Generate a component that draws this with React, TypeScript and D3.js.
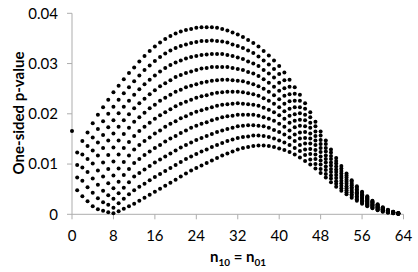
import React from "react";
import * as d3 from "d3";

// x positions (n10 = n01) where each series starts; values follow at consecutive integers
const seriesStart = [0, 1, 1, 1, 2, 3, 4, 5, 6, 7, 8];

const p0 = [0.0166, 0.0123, 0.0146, 0.0163, 0.0181, 0.0198, 0.0213, 0.0228, 0.0243, 0.0256, 0.0269, 0.0281, 0.0292, 0.0304, 0.0315, 0.0325, 0.0334, 0.0342, 0.0349, 0.0355, 0.0360, 0.0364, 0.0367, 0.0369, 0.0371, 0.0372, 0.0372, 0.0372, 0.0371, 0.0369, 0.0366, 0.0362, 0.0358, 0.0353, 0.0347, 0.0341, 0.0334, 0.0325, 0.0316, 0.0306, 0.0295, 0.0282, 0.0268, 0.0253, 0.0238, 0.0221, 0.0203, 0.0184, 0.0165, 0.0147, 0.0129, 0.0112, 0.0096, 0.0081, 0.0068, 0.0056, 0.0045, 0.0036, 0.0027, 0.0020, 0.0014, 0.0009, 0.0005, 0.0002];
const p1 = [0.0098, 0.0119, 0.0136, 0.0153, 0.0170, 0.0185, 0.0200, 0.0214, 0.0228, 0.0241, 0.0253, 0.0265, 0.0276, 0.0287, 0.0296, 0.0305, 0.0313, 0.0320, 0.0326, 0.0331, 0.0335, 0.0338, 0.0341, 0.0343, 0.0345, 0.0345, 0.0346, 0.0345, 0.0344, 0.0342, 0.0338, 0.0335, 0.0331, 0.0326, 0.0321, 0.0314, 0.0306, 0.0298, 0.0289, 0.0279, 0.0267, 0.0254, 0.0240, 0.0226, 0.0210, 0.0193, 0.0175, 0.0157, 0.0140, 0.0123, 0.0106, 0.0091, 0.0077, 0.0065, 0.0053, 0.0043, 0.0034, 0.0026, 0.0019, 0.0013, 0.0008, 0.0005, 0.0002];
const p2 = [0.0073, 0.0093, 0.0110, 0.0127, 0.0143, 0.0158, 0.0173, 0.0187, 0.0201, 0.0214, 0.0226, 0.0238, 0.0249, 0.0259, 0.0268, 0.0276, 0.0284, 0.0291, 0.0297, 0.0302, 0.0306, 0.0310, 0.0313, 0.0315, 0.0317, 0.0318, 0.0319, 0.0319, 0.0319, 0.0317, 0.0315, 0.0312, 0.0309, 0.0304, 0.0300, 0.0295, 0.0287, 0.0280, 0.0272, 0.0262, 0.0251, 0.0239, 0.0226, 0.0213, 0.0198, 0.0182, 0.0165, 0.0148, 0.0132, 0.0116, 0.0101, 0.0086, 0.0073, 0.0061, 0.0050, 0.0040, 0.0032, 0.0024, 0.0018, 0.0012, 0.0008, 0.0004, 0.0002];
const p3 = [0.0048, 0.0067, 0.0084, 0.0101, 0.0117, 0.0132, 0.0147, 0.0161, 0.0174, 0.0187, 0.0199, 0.0211, 0.0221, 0.0230, 0.0239, 0.0247, 0.0255, 0.0261, 0.0267, 0.0273, 0.0277, 0.0281, 0.0284, 0.0287, 0.0290, 0.0291, 0.0293, 0.0293, 0.0293, 0.0293, 0.0291, 0.0289, 0.0287, 0.0283, 0.0280, 0.0275, 0.0269, 0.0262, 0.0254, 0.0246, 0.0236, 0.0225, 0.0213, 0.0201, 0.0187, 0.0172, 0.0156, 0.0140, 0.0125, 0.0110, 0.0095, 0.0081, 0.0069, 0.0058, 0.0047, 0.0038, 0.0030, 0.0023, 0.0016, 0.0011, 0.0007, 0.0004, 0.0002];
const p4 = [0.0036, 0.0054, 0.0071, 0.0087, 0.0103, 0.0118, 0.0133, 0.0147, 0.0160, 0.0172, 0.0184, 0.0193, 0.0202, 0.0211, 0.0218, 0.0226, 0.0232, 0.0238, 0.0244, 0.0248, 0.0253, 0.0256, 0.0259, 0.0262, 0.0264, 0.0266, 0.0267, 0.0268, 0.0268, 0.0267, 0.0266, 0.0265, 0.0262, 0.0259, 0.0255, 0.0250, 0.0244, 0.0237, 0.0229, 0.0220, 0.0210, 0.0199, 0.0188, 0.0175, 0.0161, 0.0147, 0.0132, 0.0117, 0.0103, 0.0089, 0.0076, 0.0065, 0.0054, 0.0044, 0.0035, 0.0028, 0.0021, 0.0015, 0.0010, 0.0007, 0.0004, 0.0002];
const p5 = [0.0026, 0.0043, 0.0059, 0.0075, 0.0090, 0.0105, 0.0119, 0.0132, 0.0144, 0.0156, 0.0166, 0.0174, 0.0182, 0.0190, 0.0197, 0.0203, 0.0209, 0.0215, 0.0220, 0.0224, 0.0228, 0.0232, 0.0235, 0.0237, 0.0240, 0.0242, 0.0243, 0.0244, 0.0244, 0.0244, 0.0243, 0.0241, 0.0239, 0.0236, 0.0231, 0.0226, 0.0220, 0.0213, 0.0205, 0.0196, 0.0186, 0.0176, 0.0164, 0.0151, 0.0138, 0.0124, 0.0110, 0.0097, 0.0084, 0.0072, 0.0061, 0.0051, 0.0042, 0.0033, 0.0026, 0.0020, 0.0014, 0.0010, 0.0006, 0.0004, 0.0002];
const p6 = [0.0016, 0.0032, 0.0047, 0.0062, 0.0077, 0.0091, 0.0104, 0.0117, 0.0129, 0.0138, 0.0146, 0.0153, 0.0161, 0.0167, 0.0174, 0.0180, 0.0185, 0.0191, 0.0195, 0.0200, 0.0204, 0.0207, 0.0210, 0.0213, 0.0216, 0.0218, 0.0219, 0.0220, 0.0221, 0.0220, 0.0219, 0.0218, 0.0216, 0.0212, 0.0208, 0.0203, 0.0197, 0.0190, 0.0182, 0.0173, 0.0163, 0.0152, 0.0141, 0.0128, 0.0115, 0.0103, 0.0090, 0.0078, 0.0067, 0.0056, 0.0047, 0.0039, 0.0031, 0.0024, 0.0018, 0.0013, 0.0009, 0.0005, 0.0003, 0.0001];
const p7 = [0.0010, 0.0024, 0.0038, 0.0052, 0.0065, 0.0078, 0.0090, 0.0102, 0.0110, 0.0118, 0.0125, 0.0132, 0.0138, 0.0145, 0.0151, 0.0156, 0.0162, 0.0167, 0.0172, 0.0176, 0.0180, 0.0183, 0.0187, 0.0190, 0.0193, 0.0195, 0.0196, 0.0198, 0.0198, 0.0198, 0.0198, 0.0196, 0.0193, 0.0190, 0.0186, 0.0180, 0.0174, 0.0167, 0.0159, 0.0151, 0.0141, 0.0130, 0.0119, 0.0107, 0.0095, 0.0084, 0.0072, 0.0062, 0.0052, 0.0044, 0.0036, 0.0028, 0.0022, 0.0017, 0.0012, 0.0008, 0.0005, 0.0003, 0.0001];
const p8 = [0.0007, 0.0019, 0.0031, 0.0042, 0.0053, 0.0064, 0.0075, 0.0082, 0.0089, 0.0096, 0.0103, 0.0109, 0.0115, 0.0121, 0.0127, 0.0133, 0.0138, 0.0143, 0.0148, 0.0152, 0.0156, 0.0160, 0.0164, 0.0167, 0.0170, 0.0172, 0.0175, 0.0176, 0.0177, 0.0177, 0.0176, 0.0175, 0.0172, 0.0168, 0.0164, 0.0159, 0.0153, 0.0146, 0.0138, 0.0129, 0.0120, 0.0110, 0.0099, 0.0088, 0.0077, 0.0066, 0.0057, 0.0048, 0.0040, 0.0033, 0.0026, 0.0020, 0.0015, 0.0010, 0.0007, 0.0004, 0.0003, 0.0001];
const p9 = [0.0004, 0.0013, 0.0022, 0.0031, 0.0040, 0.0048, 0.0055, 0.0061, 0.0068, 0.0074, 0.0080, 0.0086, 0.0092, 0.0098, 0.0104, 0.0110, 0.0115, 0.0120, 0.0125, 0.0129, 0.0134, 0.0138, 0.0142, 0.0146, 0.0149, 0.0152, 0.0154, 0.0155, 0.0157, 0.0157, 0.0156, 0.0154, 0.0151, 0.0147, 0.0143, 0.0138, 0.0132, 0.0126, 0.0118, 0.0109, 0.0100, 0.0090, 0.0080, 0.0071, 0.0061, 0.0052, 0.0044, 0.0037, 0.0030, 0.0023, 0.0018, 0.0014, 0.0009, 0.0006, 0.0004, 0.0002, 0.0001];
const p10 = [0.0002, 0.0006, 0.0011, 0.0016, 0.0021, 0.0027, 0.0033, 0.0039, 0.0045, 0.0051, 0.0057, 0.0063, 0.0069, 0.0075, 0.0081, 0.0087, 0.0092, 0.0097, 0.0102, 0.0107, 0.0112, 0.0117, 0.0121, 0.0125, 0.0129, 0.0132, 0.0134, 0.0136, 0.0137, 0.0137, 0.0136, 0.0134, 0.0131, 0.0128, 0.0124, 0.0119, 0.0113, 0.0106, 0.0099, 0.0091, 0.0082, 0.0073, 0.0064, 0.0055, 0.0047, 0.0040, 0.0033, 0.0027, 0.0021, 0.0016, 0.0012, 0.0008, 0.0005, 0.0003, 0.0002, 0.0001];

const seriesValues = [p0, p1, p2, p3, p4, p5, p6, p7, p8, p9, p10];

const xTicks = [0, 8, 16, 24, 32, 40, 48, 56, 64];
const yTicks = [0, 0.01, 0.02, 0.03, 0.04];
const yTickLabels = ["0", "0.01", "0.02", "0.03", "0.04"];

export default function App() {
  const W = 418;
  const H = 272;
  const x = d3.scaleLinear().domain([0, 64]).range([72, 403.5]);
  const y = d3.scaleLinear().domain([0, 0.04]).range([214.3, 13.3]);
  const axisColor = "#ADADAD";
  const font = "Lato, 'Open Sans', sans-serif";

  const points: { cx: number; cy: number; key: string }[] = [];
  seriesValues.forEach((vals, si) => {
    vals.forEach((v, i) => {
      const xv = seriesStart[si] + i;
      points.push({ cx: x(xv), cy: y(v), key: `${si}-${i}` });
    });
  });

  return (
    <svg
      width={W}
      height={H}
      style={{ position: "absolute", left: 0, top: 0, background: "#fff" }}
      fontFamily={font}
    >
      <rect x={0} y={0} width={W} height={H} fill="#fff" />
      {/* axes */}
      <line x1={x(0)} x2={x(0)} y1={y(0.04)} y2={y(0)} stroke={axisColor} strokeWidth={1} />
      <line x1={x(0)} x2={x(64)} y1={y(0)} y2={y(0)} stroke={axisColor} strokeWidth={1} />
      {yTicks.map((t, i) => (
        <g key={`yt${i}`}>
          <line x1={x(0) - 5} x2={x(0)} y1={y(t)} y2={y(t)} stroke={axisColor} />
          <text x={58} y={y(t) + 5.2} textAnchor="end" fontSize={15} fill="#000">
            {yTickLabels[i]}
          </text>
        </g>
      ))}
      {xTicks.map((t) => (
        <g key={`xt${t}`}>
          <line x1={x(t)} x2={x(t)} y1={y(0)} y2={y(0) + 5} stroke={axisColor} />
          <text x={x(t)} y={241} textAnchor="middle" fontSize={15} fill="#000">
            {t}
          </text>
        </g>
      ))}
      {/* axis titles */}
      <text x={238} y={262} textAnchor="middle" fontSize={15} fontWeight="bold" fill="#000">
        n<tspan fontSize={10} dy={3.5}>10</tspan>
        <tspan dy={-3.5}> = n</tspan>
        <tspan fontSize={10} dy={3.5}>01</tspan>
      </text>
      <text
        transform={`translate(24,113) rotate(-90)`}
        textAnchor="middle"
        fontSize={15}
        fontWeight="bold"
        fill="#000"
      >
        One-sided p-value
      </text>
      {/* points */}
      {points.map((p) => (
        <circle key={p.key} cx={p.cx} cy={p.cy} r={2} fill="#000" />
      ))}
    </svg>
  );
}
